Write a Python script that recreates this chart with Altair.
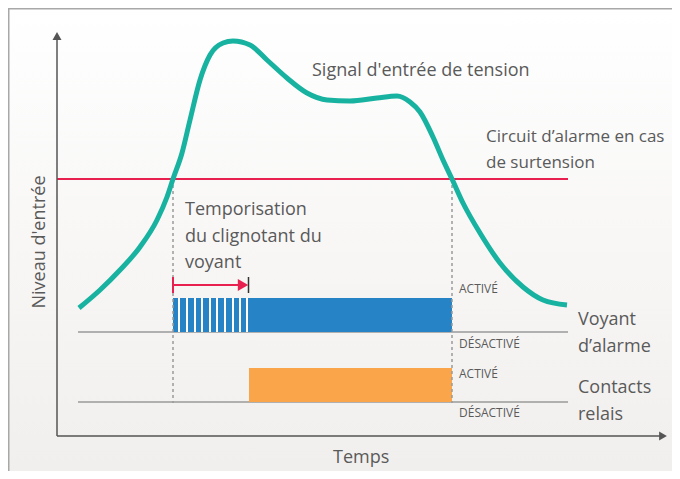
import altair as alt
import pandas as pd

# ---------------- data (time units, level units) ----------------
curve_t = [22, 43, 63, 83, 100, 110, 116, 125, 133, 143, 153, 166, 176, 193, 210, 230, 250, 270, 293, 320, 340, 353, 363, 376, 386, 395, 406, 423, 443, 466, 486, 510]
curve_v = [128, 146, 166, 189, 216, 239, 257, 283, 316, 356, 381, 393, 395, 391, 376, 358, 343, 336, 335, 338, 340, 334, 324, 299, 276, 257, 233, 203, 173, 149, 136, 131]

threshold = 257
threshold_span = [0, 511]
cross_times = [116, 395]          # where the signal crosses the threshold
state_span = [21, 511]            # extent of the two state baselines
lamp_off, lamp_on = 104, 138      # alarm lamp levels
relay_off, relay_on = 34, 68      # relay contact levels
lamp_start, lamp_end = 116, 395
relay_start, relay_end = 192, 395
blink_times = [122, 130, 138, 145, 153, 160, 168, 176, 183, 190]
delay_level = 151
delay_span = [116, 191]

axis_top = 397
axis_right = 603

big_labels = ["Signal d'entrée de tension",
              "Temporisation", "du clignotant du", "voyant",
              "Voyant", "d’alarme", "Contacts", "relais", "Temps"]
big_t = [255, 128, 128, 128, 521, 521, 521, 521, 276]
big_v = [360, 221, 194, 168, 111, 84, 43, 16, -27]

circuit_labels = ["Circuit d’alarme en cas", "de surtension"]
circuit_t = [429, 429]
circuit_v = [294, 268]

small_labels = ["ACTIVÉ", "DÉSACTIVÉ", "ACTIVÉ", "DÉSACTIVÉ"]
small_t = [402, 402, 402, 402]
small_v = [143, 88, 58, 19]

y_title = "Niveau d'entrée"

# ---------------- scales ----------------
W, H = 664, 463
XS = alt.Scale(domain=[-49, 615], nice=False, zero=False)
YS = alt.Scale(domain=[-35, 428], nice=False, zero=False)
FONT = "Open Sans"
TXT = "#5a5a5a"


def X(f="t"):
    return alt.X(f"{f}:Q", scale=XS, axis=None)


def Y(f="v"):
    return alt.Y(f"{f}:Q", scale=YS, axis=None)


one = pd.DataFrame({"a": [0]})

bg = alt.Chart(one).mark_rect(
    color=alt.Gradient(gradient="linear",
                       stops=[alt.GradientStop(color="#ffffff", offset=0),
                              alt.GradientStop(color="#f1efed", offset=1)],
                       x1=0, x2=0, y1=0, y2=1)
).encode(x=alt.value(0), x2=alt.value(W), y=alt.value(0), y2=alt.value(H))

border_l = alt.Chart(one).mark_rule(color="#a8a8a8", strokeWidth=3).encode(
    x=alt.value(0), y=alt.value(0), y2=alt.value(H))
border_t = alt.Chart(one).mark_rule(color="#a8a8a8", strokeWidth=3).encode(
    x=alt.value(0), x2=alt.value(W), y=alt.value(0))

# axes with arrows
yaxis = alt.Chart(pd.DataFrame({"t": [0], "v": [0], "v2": [axis_top]})).mark_rule(
    color="#555555", strokeWidth=1.5).encode(x=X(), y=Y(), y2="v2:Q")
xaxis = alt.Chart(pd.DataFrame({"t": [0], "t2": [axis_right], "v": [0]})).mark_rule(
    color="#555555", strokeWidth=1.5).encode(x=X(), x2="t2:Q", y=Y())
yarrow = alt.Chart(pd.DataFrame({"t": [0], "v": [axis_top + 3]})).mark_point(
    shape="triangle-up", filled=True, size=81, color="#555555", opacity=1).encode(x=X(), y=Y())
xarrow = alt.Chart(pd.DataFrame({"t": [axis_right + 3], "v": [0]})).mark_point(
    shape="triangle-right", filled=True, size=81, color="#555555", opacity=1).encode(x=X(), y=Y())

# state baselines
base_df = pd.DataFrame({"t": [state_span[0]] * 2, "t2": [state_span[1]] * 2, "v": [lamp_off, relay_off]})
baselines = alt.Chart(base_df).mark_rule(color="#9a9a9a", strokeWidth=1.5).encode(
    x=X(), x2="t2:Q", y=Y())

# bars
lamp = alt.Chart(pd.DataFrame({"t": [lamp_start], "t2": [lamp_end], "v": [lamp_off], "v2": [lamp_on]})).mark_rect(
    color="#2683c6").encode(x=X(), x2="t2:Q", y=Y(), y2="v2:Q")
relay = alt.Chart(pd.DataFrame({"t": [relay_start], "t2": [relay_end], "v": [relay_off], "v2": [relay_on]})).mark_rect(
    color="#fba54b").encode(x=X(), x2="t2:Q", y=Y(), y2="v2:Q")
blink = alt.Chart(pd.DataFrame({"t": blink_times, "v": [lamp_off] * len(blink_times),
                                "v2": [lamp_on] * len(blink_times)})).mark_rule(
    color="white", strokeWidth=2).encode(x=X(), y=Y(), y2="v2:Q")

# threshold
thr = alt.Chart(pd.DataFrame({"t": [threshold_span[0]], "t2": [threshold_span[1]], "v": [threshold]})).mark_rule(
    color="#e8204f", strokeWidth=2).encode(x=X(), x2="t2:Q", y=Y())

# dotted crossings
dots = alt.Chart(pd.DataFrame({"t": cross_times, "v": [threshold] * 2, "v2": [relay_off - 1] * 2})).mark_rule(
    color="#9a9a9a", strokeWidth=1.5, strokeDash=[3, 3]).encode(x=X(), y=Y(), y2="v2:Q")

# signal curve
curve = alt.Chart(pd.DataFrame({"t": curve_t, "v": curve_v, "o": range(len(curve_t))})).mark_line(
    color="#17b2a0", strokeWidth=5, interpolate="monotone").encode(x=X(), y=Y(), order="o:Q")

# delay arrow
delay = alt.Chart(pd.DataFrame({"t": [delay_span[0]], "t2": [delay_span[1] - 10], "v": [delay_level]})).mark_rule(
    color="#e8204f", strokeWidth=2).encode(x=X(), x2="t2:Q", y=Y())
delay_head = alt.Chart(pd.DataFrame({"t": [delay_span[1] - 5], "v": [delay_level]})).mark_point(
    shape="triangle-right", filled=True, size=144, color="#e8204f", opacity=1).encode(x=X(), y=Y())
delay_l = alt.Chart(pd.DataFrame({"t": [delay_span[0]], "v": [delay_level - 8], "v2": [delay_level + 8]})).mark_rule(
    color="#e8204f", strokeWidth=2).encode(x=X(), y=Y(), y2="v2:Q")
delay_r = alt.Chart(pd.DataFrame({"t": [delay_span[1] + 0.5], "v": [delay_level - 8], "v2": [delay_level + 8]})).mark_rule(
    color="#333333", strokeWidth=1.5).encode(x=X(), y=Y(), y2="v2:Q")

# texts
big = alt.Chart(pd.DataFrame({"t": big_t, "v": big_v, "label": big_labels})).mark_text(
    align="left", baseline="alphabetic", font=FONT, fontSize=18, color=TXT).encode(
    x=X(), y=Y(), text="label:N")
circuit = alt.Chart(pd.DataFrame({"t": circuit_t, "v": circuit_v, "label": circuit_labels})).mark_text(
    align="left", baseline="alphabetic", font=FONT, fontSize=17, color=TXT).encode(
    x=X(), y=Y(), text="label:N")
small = alt.Chart(pd.DataFrame({"t": small_t, "v": small_v, "label": small_labels})).mark_text(
    align="left", baseline="alphabetic", font=FONT, fontSize=12, color=TXT).encode(
    x=X(), y=Y(), text="label:N")
ytitle = alt.Chart(pd.DataFrame({"t": [-12], "v": [194], "label": [y_title]})).mark_text(
    align="center", baseline="alphabetic", font=FONT, fontSize=18, color=TXT, angle=270).encode(
    x=X(), y=Y(), text="label:N")

chart = alt.layer(
    bg, border_l, border_t, baselines, lamp, blink, relay, thr, dots, curve,
    yaxis, xaxis, yarrow, xarrow, delay, delay_head, delay_l, delay_r,
    big, circuit, small, ytitle
).properties(width=W, height=H, padding=0, autosize=alt.AutoSizeParams(type="none")).configure_view(stroke=None)

chart.save("out.html", embed_options={"renderer": "svg", "actions": False})
